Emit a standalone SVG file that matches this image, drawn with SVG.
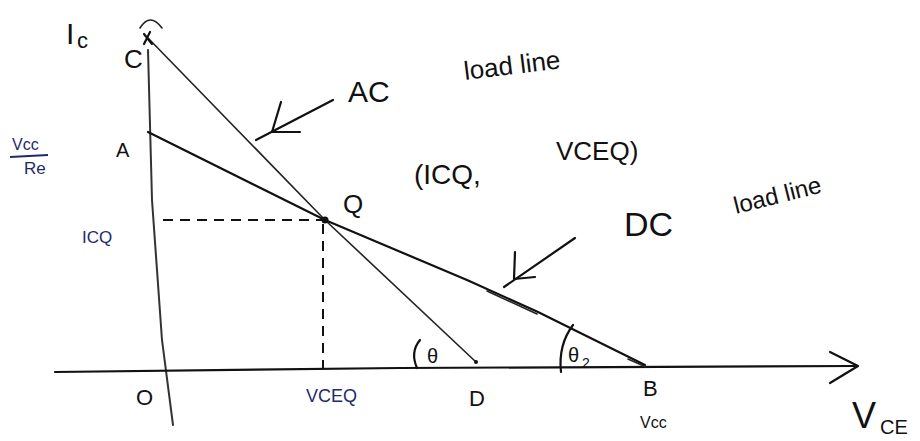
<svg xmlns="http://www.w3.org/2000/svg" width="920" height="441" viewBox="0 0 920 441">
<style>
.ln{stroke:#111;stroke-width:2.2;fill:none;stroke-linecap:round;stroke-linejoin:round}
.thin{stroke:#222;stroke-width:1.6;fill:none;stroke-linecap:round}
.ax{stroke:#333;stroke-width:2;fill:none;stroke-linecap:round}
.dash{stroke:#111;stroke-width:2;fill:none;stroke-dasharray:10 7}
.t{font-family:"Liberation Sans","DejaVu Sans",sans-serif;fill:#111}
.b{font-family:"Liberation Sans","DejaVu Sans",sans-serif;fill:#1f2a6b}
</style>
<rect width="920" height="441" fill="#fff"/>
<g id="axes">
<path class="ax" d="M148,50 L152,200 L162,340 L173,425"/>
<path class="ln" d="M55,372 L400,368 L855,366"/>
<path class="ln" d="M830,352 L858,366 L830,383"/>
<path class="thin" d="M140,28 Q150,12 162,28"/>
</g>
<g id="connectors">
<path class="thin" d="M148,38 L325,220 L476,362"/>
<path class="ln" d="M148,132 L325,220 L467,280 L538,312 L645,365"/>
<path class="thin" d="M487,291 L537,314"/>
<path class="thin" d="M628,359 L646,367"/>
<path class="dash" d="M163,220 L322,220"/>
<path class="dash" d="M323,224 L323,368"/>
<path class="ln" d="M256,140 L333,100"/>
<path class="ln" d="M281,102 L272,132 L300,132"/>
<path class="ln" d="M575,238 L504,287"/>
<path class="ln" d="M515,252 L514,279 L535,277"/>
<path class="ln" d="M420,340 Q410,352 417,368"/>
<path class="ln" d="M573,325 Q558,345 561,372"/>
</g>
<g id="node-C">
<path class="ln" d="M144,34 L152,44 M150,32 L144,44" stroke-width="3"/>
<text class="t" x="124" y="68" font-size="26">C</text>
</g>
<g id="node-Ic"><text class="t" x="66" y="44" font-size="30">I</text><text class="t" x="77" y="48" font-size="22">c</text></g>
<g id="node-A"><text class="t" x="116" y="157" font-size="20">A</text></g>
<g id="node-VccRe">
<text class="b" x="12" y="150" font-size="16">Vcc</text>
<path d="M10,157 L48,155" stroke="#1f2a6b" stroke-width="2"/>
<text class="b" x="24" y="174" font-size="17">Re</text>
</g>
<g id="node-ICQ"><text class="b" x="82" y="243" font-size="17">ICQ</text></g>
<g id="node-Q">
<circle cx="325" cy="220" r="3.5" fill="#111"/>
<text class="t" x="343" y="213" font-size="26">Q</text>
</g>
<g id="node-coords">
<text class="t" x="414" y="184" font-size="28">(ICQ,</text>
<text class="t" x="556" y="160" font-size="26">VCEQ)</text>
</g>
<g id="node-AC">
<text class="t" x="348" y="102" font-size="30">AC</text>
<text class="t" x="465" y="80" font-size="26" transform="rotate(-7 465 80)">load line</text>
</g>
<g id="node-DC">
<text class="t" x="624" y="236" font-size="34">DC</text>
<text class="t" x="736" y="214" font-size="24" transform="rotate(-14 736 214)">load line</text>
</g>
<g id="node-O"><text class="t" x="136" y="405" font-size="22">O</text></g>
<g id="node-VCEQ"><text class="b" x="306" y="402" font-size="18">VCEQ</text></g>
<g id="node-D">
<circle cx="476" cy="362" r="2" fill="#111"/>
<text class="t" x="469" y="406" font-size="22">D</text>
</g>
<g id="node-B">
<text class="t" x="643" y="396" font-size="22">B</text>
<text class="t" x="640" y="428" font-size="16">Vcc</text>
</g>
<g id="node-theta1"><text class="t" x="427" y="363" font-size="20">θ</text></g>
<g id="node-theta2"><text class="t" x="568" y="362" font-size="20">θ</text><text class="t" x="582" y="368" font-size="14">2</text></g>
<g id="node-VCE"><text class="t" x="852" y="428" font-size="36">V</text><text class="t" x="880" y="434" font-size="20">CE</text></g>
</svg>
